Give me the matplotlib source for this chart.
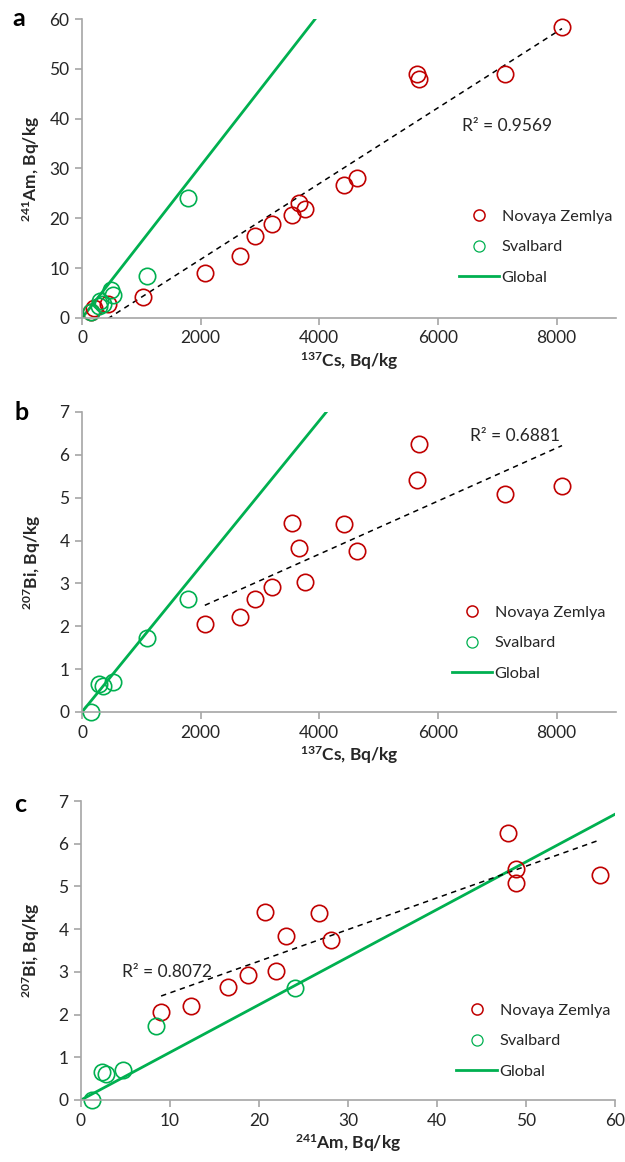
import numpy as np
import matplotlib
matplotlib.use('Agg')
import matplotlib.pyplot as plt

plt.rcParams['font.family'] = ['Lato', 'DejaVu Sans']
plt.rcParams['mathtext.fontset'] = 'custom'
plt.rcParams['mathtext.rm'] = 'Lato'
plt.rcParams['mathtext.bf'] = 'Lato:bold'

# Novaya Zemlya samples with all three nuclides
nz_cs = [2070, 2670, 2910, 3200, 3540, 3650, 3750, 4420, 4630, 5650, 5680, 7130, 8090]
nz_am = [9.0, 12.4, 16.5, 18.8, 20.7, 23.0, 21.9, 26.7, 28.1, 48.9, 48.0, 48.9, 58.3]
nz_bi = [2.05, 2.21, 2.64, 2.92, 4.41, 3.83, 3.03, 4.38, 3.75, 5.41, 6.25, 5.08, 5.27]
# Novaya Zemlya samples with Cs and Am only
nz_cs_extra = [150, 200, 430, 1030]
nz_am_extra = [1.3, 2.1, 2.8, 4.3]

# Svalbard
sv_cs = [150, 290, 350, 530, 1100, 1790]
sv_am = [1.2, 2.4, 2.8, 4.7, 8.4, 24.0]
sv_bi = [0.0, 0.65, 0.6, 0.7, 1.73, 2.63]
sv_cs_extra = [300, 490]
sv_am_extra = [3.4, 5.6]

# global fallout ratios
glob_am_cs = 0.01527
glob_bi_cs = 0.00170
glob_bi_am = 0.1115

r2_texts = ['R² = 0.9569', 'R² = 0.6881', 'R² = 0.8072']

RED = '#C00000'
GREEN = '#00B050'
GREY = '#A6A6A6'
TXT = '#262626'

fig = plt.figure(figsize=(6.25, 11.62), dpi=100)
W, H = 625, 1162

def make_ax(l, r, t, b):
    return fig.add_axes([l / W, 1 - b / H, (r - l) / W, (b - t) / H])

ax_a = make_ax(82, 616, 19, 318)
ax_b = make_ax(82, 616, 412, 712)
ax_c = make_ax(81, 615, 801, 1100)

def style(ax):
    for s in ['top', 'right']:
        ax.spines[s].set_visible(False)
    for s in ['left', 'bottom']:
        ax.spines[s].set_color(GREY)
        ax.spines[s].set_linewidth(1.2)
    ax.tick_params(colors=GREY, labelcolor=TXT, labelsize=12.5, length=5, width=1.2,
                   direction='out', pad=4)

def pts(ax, x, y, c):
    ax.plot(x, y, 'o', ms=11.8, mfc='none', mec=c, mew=1.2, ls='none', clip_on=False)

def trend(ax, x, y):
    k, b0 = np.polyfit(x, y, 1)
    xx = np.array([min(x), max(x)])
    ax.plot(xx, k * xx + b0, '--', color='k', lw=1.1, dashes=(3.5, 3))

def leg(ax, x0, y0):
    h1, = ax.plot([], [], 'o', ms=8, mfc='none', mec=RED, mew=1.1, ls='none')
    h2, = ax.plot([], [], 'o', ms=8, mfc='none', mec=GREEN, mew=0.9, ls='none')
    h3, = ax.plot([], [], '-', color=GREEN, lw=2)
    ax.legend([h1, h2, h3], ['Novaya Zemlya', 'Svalbard', 'Global'], loc='center left',
              bbox_to_anchor=(x0, y0), frameon=False, fontsize=11.7, handlelength=2.5,
              handletextpad=0.15, labelspacing=1.0, labelcolor=TXT, borderaxespad=0)

def labels(ax, xl, yl, ypad):
    ax.set_xlabel(xl, fontweight='bold', fontsize=12.5, color=TXT, labelpad=3)
    ax.set_ylabel(yl, fontweight='bold', fontsize=12.5, color=TXT, labelpad=ypad)

# ---- a
ax = ax_a
style(ax)
xs = np.array([0, 9000])
ax.plot(xs, glob_am_cs * xs, color=GREEN, lw=2)
all_cs = nz_cs + nz_cs_extra
all_am = nz_am + nz_am_extra
trend(ax, all_cs, all_am)
pts(ax, all_cs, all_am, RED)
pts(ax, sv_cs + sv_cs_extra, sv_am + sv_am_extra, GREEN)
ax.set_xlim(0, 9000)
ax.set_ylim(0, 60)
ax.set_xticks([0, 2000, 4000, 6000, 8000])
ax.set_yticks(range(0, 61, 10))
labels(ax, r'$\mathbf{^{137}}$Cs, Bq/kg', r'$\mathbf{^{241}}$Am, Bq/kg', 5)
ax.text(0.712, 0.642, r2_texts[0], transform=ax.transAxes, fontsize=12.5, color=TXT, va='center')
leg(ax, 0.693, 0.237)
fig.text(12 / W, 1 - 18 / H, 'a', fontsize=18, fontweight='bold', va='center')

# ---- b
ax = ax_b
style(ax)
ax.plot(xs, glob_bi_cs * xs, color=GREEN, lw=2)
trend(ax, nz_cs, nz_bi)
pts(ax, nz_cs, nz_bi, RED)
pts(ax, sv_cs, sv_bi, GREEN)
ax.set_xlim(0, 9000)
ax.set_ylim(0, 7)
ax.set_xticks([0, 2000, 4000, 6000, 8000])
ax.set_yticks(range(0, 8))
labels(ax, r'$\mathbf{^{137}}$Cs, Bq/kg', r'$\mathbf{^{207}}$Bi, Bq/kg', 12)
ax.text(0.727, 0.92, r2_texts[1], transform=ax.transAxes, fontsize=12.5, color=TXT, va='center')
leg(ax, 0.68, 0.23)
fig.text(14 / W, 1 - 413 / H, 'b', fontsize=18, fontweight='bold', va='center')

# ---- c
ax = ax_c
style(ax)
xa = np.array([0, 60])
ax.plot(xa, glob_bi_am * xa, color=GREEN, lw=2)
trend(ax, nz_am, nz_bi)
pts(ax, nz_am, nz_bi, RED)
pts(ax, sv_am, sv_bi, GREEN)
ax.set_xlim(0, 60)
ax.set_ylim(0, 7)
ax.set_xticks(range(0, 61, 10))
ax.set_yticks(range(0, 8))
labels(ax, r'$\mathbf{^{241}}$Am, Bq/kg', r'$\mathbf{^{207}}$Bi, Bq/kg', 12)
ax.text(0.077, 0.428, r2_texts[2], transform=ax.transAxes, fontsize=12.5, color=TXT, va='center')
leg(ax, 0.691, 0.197)
fig.text(14 / W, 1 - 805 / H, 'c', fontsize=18, fontweight='bold', va='center')

fig.savefig('out.png', dpi=100)
